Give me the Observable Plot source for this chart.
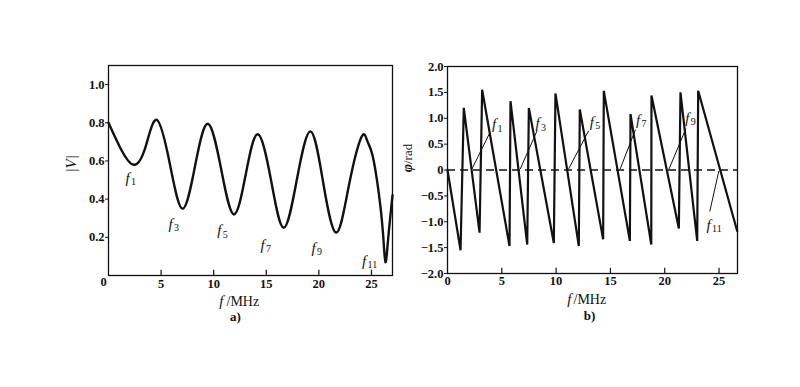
<!DOCTYPE html>
<html>
<head>
<meta charset="utf-8">
<script src="https://cdn.jsdelivr.net/npm/d3@7"></script>
<script src="https://cdn.jsdelivr.net/npm/@observablehq/plot@0.6"></script>
<style>
  html, body { margin: 0; padding: 0; background: #fff; }
  #wrap { position: relative; width: 800px; height: 387px; overflow: hidden; }
  #wrap svg { position: absolute; top: 0; }
</style>
</head>
<body>
<div id="wrap"></div>
<script>
// ---- Panel a: |V| vs f (MHz)
const fA = [0, 1.2, 2.4, 3.5, 4.6, 5.85, 7.05, 8.25, 9.45, 10.7, 11.9, 13.05, 14.2, 15.45, 16.65, 17.9, 19.2, 20.4, 21.65, 22.85, 24.05, 24.6, 25.1, 25.7, 26.1, 26.33, 26.6, 27];
const vA = [0.80, 0.66, 0.58, 0.67, 0.815, 0.58, 0.35, 0.58, 0.795, 0.56, 0.32, 0.53, 0.74, 0.50, 0.25, 0.50, 0.755, 0.49, 0.225, 0.47, 0.725, 0.705, 0.63, 0.43, 0.22, 0.07, 0.20, 0.42];
const ticksAX = [5, 10, 15, 20, 25];
const ticksAY = [0.2, 0.4, 0.6, 0.8, 1.0];
const labANames = ["1", "3", "5", "7", "9", "11"];
const labAF = [1.62, 5.7, 10.35, 14.45, 19.3, 24.1];
const labAV = [0.51, 0.27, 0.235, 0.16, 0.145, 0.075];

// ---- Panel b: phase vs f (MHz)
const fB = [0, 1.2, 1.5, 2.95, 3.19, 5.71, 5.8, 7.34, 7.49, 9.79, 9.94, 12.09, 12.18, 14.33, 14.39, 16.79, 16.85, 18.76, 18.78, 21.3, 21.45, 22.99, 23.08, 26.67];
const phiB = [0, -1.55, 1.2, -1.21, 1.55, -1.47, 1.33, -1.44, 1.2, -1.41, 1.48, -1.47, 1.17, -1.34, 1.53, -1.37, 1.08, -1.44, 1.44, -1.13, 1.5, -1.37, 1.53, -1.18];
const ticksBX = [0, 5, 10, 15, 20, 25];
const ticksBY = [-2, -1.5, -1, -0.5, 0, 0.5, 1, 1.5, 2];
const labBNames = ["1", "3", "5", "7", "9", "11"];
const leadF0 = [2.25, 6.7, 11.15, 15.9, 20.4, 24.98];
const leadP0 = [0.02, 0.02, 0.02, 0.02, 0.02, -0.02];
const leadF1 = [3.9, 8.25, 13.0, 17.3, 21.95, 24.15];
const leadP1 = [0.72, 0.76, 0.76, 0.78, 0.8, -0.8];
const labBF = [4.1, 8.1, 13.1, 17.35, 21.9, 23.85];
const labBP = [0.88, 0.9, 0.93, 0.97, 1.0, -1.06];

const dataA = fA.map((f, i) => ({f, v: vA[i]}));
const dataB = fB.map((f, i) => ({f, p: phiB[i]}));
const labA = labANames.map((n, i) => ({n, f: labAF[i], v: labAV[i]}));
const leads = labBNames.map((n, i) => ({x1: leadF0[i], y1: leadP0[i], x2: leadF1[i], y2: leadP1[i]}));
const labB = labBNames.map((n, i) => ({n, f: labBF[i], p: labBP[i]}));

const ink = "#111";
const serif = "'Liberation Serif', 'DejaVu Serif', serif";

const plotA = Plot.plot({
  width: 400, height: 387,
  marginLeft: 108, marginRight: 8, marginTop: 65, marginBottom: 112,
  style: {fontFamily: serif, color: ink, background: "transparent"},
  x: {domain: [0, 27]},
  y: {domain: [0, 1.1]},
  marks: [
    Plot.frame({stroke: ink, strokeWidth: 1.3}),
    Plot.ruleX(ticksAX, {x: d => d, y1: 0, y2: 0.028, stroke: ink, strokeWidth: 1.2}),
    Plot.axisX({ticks: ticksAX, tickSize: 0, tickPadding: 4, fontSize: 12.5, fontWeight: "bold", label: null}),
    Plot.text([0], {x: d => d, frameAnchor: "bottom", dy: 10, dx: -5, text: d => "0", fontSize: 12.5, fontWeight: "bold", fill: ink}),
    Plot.axisY({ticks: ticksAY, tickFormat: d3.format(".1f"), tickSize: 3, tickPadding: 1, fontSize: 12.5, fontWeight: "bold", label: null}),
    Plot.line(dataA, {x: "f", y: "v", curve: "natural", stroke: ink, strokeWidth: 2.4}),
    Plot.text(labA, {x: "f", y: "v", text: d => "f", fontStyle: "italic", fontSize: 15, textAnchor: "start", fill: ink}),
    Plot.text(labA, {x: "f", y: "v", text: "n", fontSize: 10, textAnchor: "start", dx: 5.5, dy: 4, fill: ink}),
    Plot.text(["f"], {frameAnchor: "bottom", text: d => d, fontStyle: "italic", fontSize: 15, textAnchor: "end", dx: -27, dy: 30, fill: ink}),
    Plot.text(["/MHz"], {frameAnchor: "bottom", text: d => d, fontSize: 14, textAnchor: "start", dx: -24, dy: 30, fill: ink}),
    Plot.text(["a)"], {frameAnchor: "bottom", text: d => d, fontSize: 13, fontWeight: "bold", dx: -15, dy: 45, fill: ink}),
    Plot.text(["|V|"], {frameAnchor: "left", text: d => d, fontSize: 15, fontStyle: "italic", rotate: -90, dx: -37, dy: 2, fill: ink})
  ]
});

const plotB = Plot.plot({
  width: 400, height: 387,
  marginLeft: 47, marginRight: 63, marginTop: 66, marginBottom: 114,
  style: {fontFamily: serif, color: ink, background: "transparent"},
  x: {domain: [0, 26.7]},
  y: {domain: [-2, 2]},
  marks: [
    Plot.frame({stroke: ink, strokeWidth: 1.3}),
    Plot.ruleX(ticksBX.slice(1), {x: d => d, y1: -2, y2: -1.9, stroke: ink, strokeWidth: 1.2}),
    Plot.axisX({ticks: ticksBX, tickSize: 0, tickPadding: 3, fontSize: 12.5, fontWeight: "bold", label: null}),
    Plot.axisY({ticks: ticksBY, tickFormat: d => d === 0 ? "0" : (d < 0 ? "\u2212" : "") + Math.abs(d).toFixed(1), tickSize: 3, tickPadding: 1, fontSize: 12.5, fontWeight: "bold", label: null}),
    Plot.ruleY([0], {stroke: ink, strokeWidth: 1.4, strokeDasharray: "8,5"}),
    Plot.line(dataB, {x: "f", y: "p", stroke: ink, strokeWidth: 2.2, strokeLinejoin: "miter"}),
    Plot.link(leads, {x1: "x1", y1: "y1", x2: "x2", y2: "y2", stroke: ink, strokeWidth: 1}),
    Plot.text(labB, {x: "f", y: "p", text: d => "f", fontStyle: "italic", fontSize: 15, textAnchor: "start", fill: ink}),
    Plot.text(labB, {x: "f", y: "p", text: "n", fontSize: 10, textAnchor: "start", dx: 5.5, dy: 4, fill: ink}),
    Plot.text(["f"], {frameAnchor: "bottom", text: d => d, fontStyle: "italic", fontSize: 15, textAnchor: "end", dx: -21, dy: 30, fill: ink}),
    Plot.text(["/MHz"], {frameAnchor: "bottom", text: d => d, fontSize: 14, textAnchor: "start", dx: -19, dy: 30, fill: ink}),
    Plot.text(["b)"], {frameAnchor: "bottom", text: d => d, fontSize: 13, fontWeight: "bold", dx: -3, dy: 46, fill: ink}),
    Plot.text(["\u03c6"], {frameAnchor: "left", text: d => d, fontSize: 14, fontStyle: "italic", fontWeight: "bold", rotate: -90, textAnchor: "end", dx: -39.5, dy: -6, fill: ink}),
    Plot.text(["/rad"], {frameAnchor: "left", text: d => d, fontSize: 13, rotate: -90, textAnchor: "start", dx: -39.5, dy: -6, fill: ink})
  ]
});

plotA.style.left = "0px";
plotB.style.left = "400px";
const wrap = document.getElementById("wrap");
wrap.appendChild(plotA);
wrap.appendChild(plotB);
</script>
</body>
</html>
